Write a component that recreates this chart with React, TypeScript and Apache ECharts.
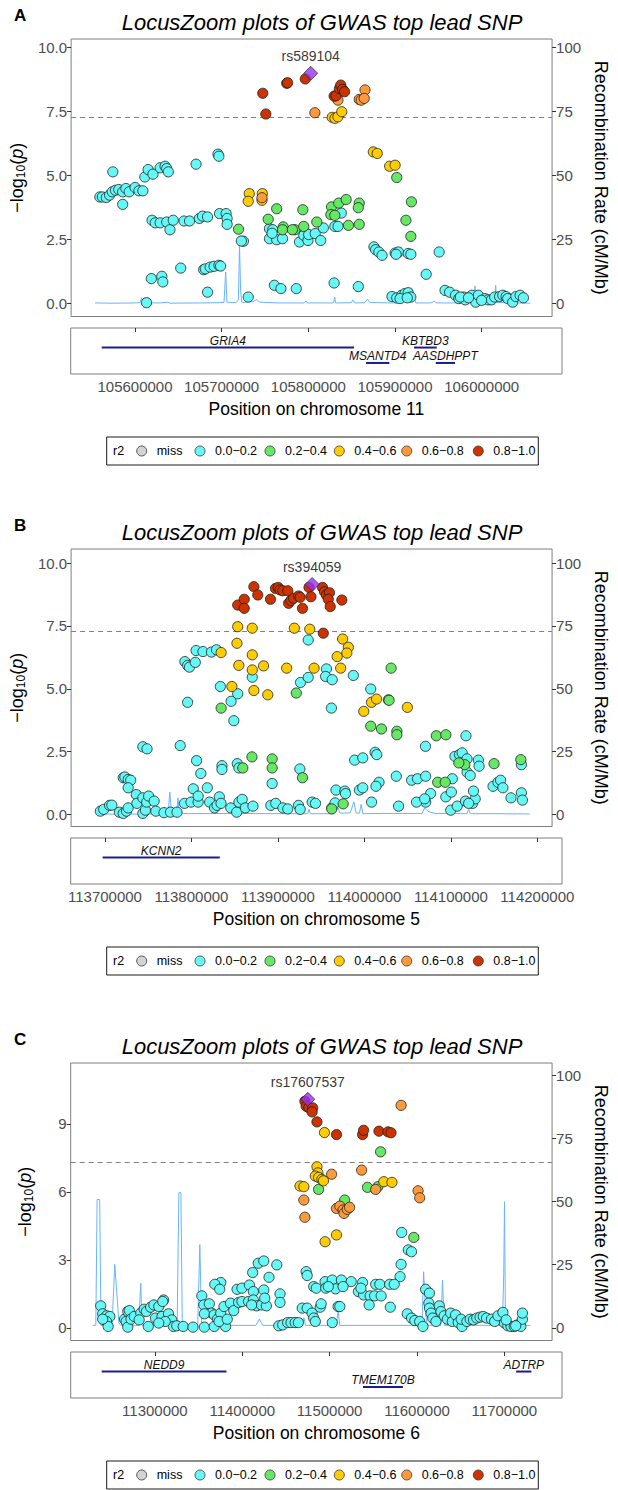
import React, { useEffect, useRef } from 'react';
import * as echarts from 'echarts';

const FONT = '"Liberation Sans", Arial, Helvetica, sans-serif';

const LD_COLORS = ['#D3D3D3', '#66F7F7', '#66E866', '#FFCC00', '#FF9A3C', '#CC3300'];
const LD_LABELS = ['miss', '0.0−0.2', '0.2−0.4', '0.4−0.6', '0.6−0.8', '0.8−1.0'];
const LEAD_COLOR = '#9A30EE';
const RECOMB_COLOR = '#6AB4FA';
const GENE_COLOR = '#1C1C90';

// ---------------- Panel A (chr 11) ----------------
const A_CYAN: [number, number][] = [
  [105559.7, 4.17], [105562.7, 4.17], [105567.3, 4.15], [105571.2, 4.24], [105574.3, 4.37], [105578.1, 4.43], [105582, 4.46], [105586.6, 4.37], [105590.4, 4.5], [105594.3, 4.37], [105601.2, 4.54], [105605.8, 4.41], [105610.4, 4.41], [105586.6, 3.88], [105575, 5.15],
  [105612.7, 4.95], [105616.6, 5.24], [105622.3, 5.06], [105630.8, 5.31], [105636.6, 5.37], [105638.5, 5.28], [105640.4, 5.15], [105673.1, 5.45], [105698.9, 5.84], [105700, 5.76],
  [105621.2, 3.26], [105625, 3.16], [105630.8, 3.16], [105638.5, 3.19], [105642.3, 2.89], [105646.2, 3.26], [105658.9, 3.23], [105665.4, 3.23], [105677, 3.33], [105680.8, 3.42], [105686.6, 3.39], [105700.8, 3.52], [105708.5, 3.52], [105709.7, 3.33], [105709.7, 3.1],
  [105620.4, 0.98], [105632.7, 1.07], [105633.9, 0.85], [105655, 1.39], [105682, 1.33], [105686.6, 0.45], [105684, 1.36], [105689.7, 1.43], [105694.3, 1.46], [105700, 1.5], [105702, 1.47], [105614.7, 0.04], [105734.6, 0.26],
  [105728.9, 2.44], [105726.5, 2.45],
  [105759.6, 2.93], [105763.5, 2.89], [105759.6, 2.54], [105768.1, 2.5], [105775, 2.54], [105762.7, 2.75], [105795, 2.41], [105800, 2.67], [105805, 2.47], [105805.8, 2.7], [105813.5, 2.74], [105820, 2.47], [105823.1, 2.96], [105844.3, 3.54], [105836.6, 3.02], [105840.4, 3.02], [105765.4, 0.72], [105773.1, 0.59], [105791.2, 0.59], [105835.8, 0.81], [105864.3, 0.67],
  [105882.7, 2.22], [105884.7, 2.11], [105888.5, 2.02], [105892.3, 1.89], [105907.7, 1.98], [105911.6, 2.02], [105908.8, 1.93], [105923.1, 1.96], [105926.2, 1.93], [105944.3, 1.15], [105959.6, 2.02],
  [105903.9, 0.28], [105909.6, 0.23], [105915.4, 0.33], [105919.3, 0.4], [105923.1, 0.43], [105926.2, 0.26], [105913.5, 0.2], [105922, 0.23],
  [105966.5, 0.52], [105971.9, 0.45], [105978.9, 0.33], [105982.7, 0.2], [105988.5, 0.26], [105990.4, 0.15], [105998.1, 0.33], [106002.7, 0.06], [106005.8, 0.33], [106013.5, 0.2], [106017.3, 0.15], [106021.2, 0.15], [106025, 0.26], [106030.8, 0.28], [106034.6, 0.33], [106038.5, 0.28], [106040.4, 0.2], [106046.2, 0.06], [106050, 0.28], [106055, 0.33], [106058.9, 0.23], [105984.6, 0.26], [105994.2, 0.23], [106009.6, 0.13],
];
const A_GREEN: [number, number][] = [
  [105723.1, 2.91], [105758.1, 3.3], [105768.1, 3.71], [105775.8, 3.0], [105775, 2.89], [105789.6, 2.89], [105786.6, 2.89], [105798.9, 3.67], [105800, 3.02], [105815.4, 3.19], [105832.7, 3.78], [105831.9, 3.48], [105836.6, 3.45], [105841.2, 3.93], [105850, 4.07], [105852.7, 3.06], [105865.4, 3.93], [105864.3, 3.75], [105865.4, 3.1], [105909.6, 4.93], [105926.9, 3.98], [105920.4, 3.26], [105926.2, 2.63],
];
const A_YELLOW: [number, number][] = [
  [105735.8, 4.3], [105734.6, 4.0], [105751.2, 4.3], [105750.8, 4.04], [105882, 5.93], [105886.6, 5.87], [105901.2, 5.37], [105907.7, 5.41], [105833.5, 7.28], [105836.8, 7.24], [105840.3, 7.3], [105844.8, 7.5],
];
const A_ORANGE: [number, number][] = [
  [105750.8, 4.14], [105813.1, 7.46], [105840.3, 7.95], [105865.4, 7.98], [105867.7, 7.95], [105872.2, 8.35], [105871.3, 8.02],
];
const A_RED: [number, number][] = [
  [105751.7, 8.22], [105755.3, 7.41], [105779.9, 8.61], [105781, 8.63], [105801.8, 8.78], [105835.8, 8.11], [105838, 8.12], [105842, 8.4], [105843.6, 8.54], [105845.8, 8.37], [105848.1, 8.28],
];
const A_LEAD: [number, number][] = [[105808.2, 9.0]];
const A_RECOMB: [number, number][] = [
  [105554, 0.3], [105575, 0.2], [105600, 0.3], [105607, 0.4], [105609, 2.3], [105611, 0.4], [105630, 0.3], [105640, 0.6], [105642, 0.2], [105680, 0.3], [105700, 0.4], [105706, 0.5], [105708, 12.4], [105709.5, 0.6], [105720, 0.4], [105723, 1.5], [105724.3, 23.2], [105725.6, 5], [105727, 0.5], [105740, 0.8], [105745, 1.6], [105748, 0.6], [105770, 0.3], [105800, 0.3], [105803, 1.0], [105804, 0.3], [105835, 0.3], [105836.5, 2.6], [105837.5, 0.3], [105856, 0.4], [105858, 1.5], [105860, 0.3], [105872, 0.4], [105875, 1.8], [105878, 0.5], [105900, 0.3], [105915, 0.3], [105920, 2], [105926.9, 6.2], [105930, 3], [105932, 0.3], [105950, 0.3], [105954, 1], [105956, 0.3], [105990, 0.3], [106000, 0.5], [106001.9, 6.9], [106003, 0.6], [106025, 0.5], [106026.2, 7.2], [106027.5, 0.5], [106050, 0.3], [106067, 0.2],
];
const A_GENE_NAMES = ['GRIA4', 'KBTBD3', 'MSANTD4', 'AASDHPPT'];
const A_GENE_START = [105561.6, 105921.9, 105866.5, 105947.0];
const A_GENE_END = [105852.7, 105948.1, 105893.4, 105969.2];
const A_GENE_ROW = [0, 0, 1, 1];
const A_XTICKS = [105600000, 105700000, 105800000, 105900000, 106000000];

// ---------------- Panel B (chr 5) ----------------
const B_CYAN: [number, number][] = [
  [113794.8, 6.08], [113798, 5.93], [113800.2, 5.86], [113807.1, 6.05], [113808, 6.52], [113816.2, 6.48], [113826.2, 6.46], [113832.1, 6.55], [113940.5, 6.94], [113962, 5.79], [113961, 5.49], [113968.8, 5.36], [113993.8, 5.53], [113931.4, 5.25], [113940.5, 5.45], [113874.4, 5.46], [113836.7, 5.09], [113857.2, 4.8], [113849.4, 4.5], [113798, 4.46], [113852.6, 3.73], [114014.3, 4.99], [113967.9, 4.23], [114126.8, 3.13], [114079, 2.71],
  [113745.1, 2.69], [113750.1, 2.61], [113789.3, 2.74], [113808.6, 2.14], [113813.6, 1.63], [113838.6, 1.94], [113838.6, 1.79], [113856.7, 2.02], [113858.6, 1.85], [113897.9, 1.23], [113930.6, 1.81], [113945.2, 0.49], [113949.1, 0.44], [113995.3, 2.16], [114004.9, 2.25], [114019.5, 2.47], [114021.4, 2.38], [114024.1, 1.28], [114020.5, 1.12], [114044.5, 1.52], [114062.6, 1.36], [114069.6, 1.42], [114079.2, 1.52], [114079.2, 0.49], [114085, 0.83], [114103, 0.7], [114109.6, 0.89], [114108.8, 0.17], [114110.7, 1.42], [114113.8, 2.31], [114119.2, 2.38], [114122.3, 2.45], [114128.1, 2.21], [114128.1, 1.68], [114131.9, 1.55], [114134.6, 0.44], [114137.7, 0.62], [114135.7, 0.93], [114141.5, 2.16], [114142.3, 1.92], [114116.5, 0.33], [114126.2, 0.53], [114130, 0.44], [114158.8, 1.12], [114164.6, 1.28], [114167.7, 1.36], [114170.4, 1.06], [114180, 0.66], [114192.3, 1.98], [114192.3, 0.86], [114193.5, 0.57],
  [113695, 0.13], [113698.9, 0.2], [113705.8, 0.36], [113708.5, 0.37], [113717.4, 0.09], [113722, 0.04], [113725.8, 0.13], [113727.8, 0.26], [113722, 1.46], [113723.9, 1.49], [113727.8, 1.39], [113730.8, 1.36], [113727.8, 1.06], [113737.4, 0.79], [113738.1, 0.44], [113745.1, 0.04], [113748.2, 0.17], [113745.1, 0.66], [113749.7, 0.49], [113752, 0.73], [113758.5, 0.53], [113760.5, 0.13], [113770.1, 0.07], [113777.8, 0.09], [113785.5, 0.09], [113794.3, 0.44], [113802, 0.49], [113804.7, 1.02], [113810.5, 0.49], [113810.5, 0.73], [113821.3, 1.06], [113824, 0.49], [113829.8, 0.26], [113832.8, 0.36], [113835.5, 0.7], [113837.5, 0.44], [113849, 0.26], [113856, 0.09], [113858.6, 0.49], [113862.5, 0.6], [113866.3, 0.26], [113875.2, 0.33], [113896.3, 0.36], [113902.1, 0.44], [113910.6, 0.26], [113916.3, 0.22], [113929, 0.36], [113931, 0.2], [113968.3, 0.26], [113972.2, 0.46], [113973.3, 0.97], [113983.7, 0.93], [113984.5, 0.83], [114001, 0.97], [114004.9, 1.06], [114015.3, 0.49], [114047.2, 0.33], [114068.4, 0.49], [114078, 0.62],
];
const B_GREEN: [number, number][] = [
  [113926.4, 4.83], [113837.6, 4.23], [114038.4, 5.82], [114035.2, 4.56], [114036, 4.54], [114014.3, 3.51], [114027, 3.4], [114045.2, 3.31], [114045.2, 3.17], [114091.8, 3.13], [114103.1, 3.17], [113863.2, 1.85], [113874, 2.29], [113897.9, 2.21], [113897.9, 1.85], [113933.7, 1.46], [113968.3, 0.22], [113981.8, 0.42], [114125.4, 1.98], [114118.4, 2.05], [114191.6, 2.18], [114093.4, 1.28], [114102.3, 1.28], [114160, 2.02],
];
const B_YELLOW: [number, number][] = [
  [113857.2, 7.47], [113874.4, 7.41], [113924.1, 7.41], [113942.3, 7.37], [113856.3, 6.81], [113837.6, 6.44], [113874.4, 6.35], [113981.1, 6.98], [113987.9, 6.65], [113986.1, 6.42], [113974.7, 6.28], [113858.5, 5.93], [113874.4, 5.75], [113887.7, 5.91], [113915, 5.82], [113947.4, 5.82], [113978.8, 5.82], [113850.3, 5.09], [113876.3, 4.93], [113892.7, 4.76], [114006.1, 4.1], [114015.2, 4.46], [114021.2, 4.59], [114057.6, 4.26],
];
const B_ORANGE: [number, number][] = [];
const B_RED: [number, number][] = [
  [113857.2, 8.33], [113864.9, 8.56], [113864.9, 8.2], [113876.3, 9.06], [113880.9, 8.73], [113895.9, 8.56], [113901.8, 8.99], [113905, 9.03], [113907.3, 8.93], [113910.5, 8.9], [113916.4, 8.9], [113917.3, 8.4], [113920, 8.51], [113923.2, 8.6], [113929.1, 8.69], [113931, 8.64], [113933.7, 8.2], [113941.4, 9.03], [113943.7, 8.66], [113957.4, 9.03], [113959.7, 8.86], [113962, 8.73], [113965.6, 8.82], [113964.2, 8.56], [113966.5, 8.27], [113980.2, 8.53], [113958.3, 7.21],
];
const B_LEAD: [number, number][] = [[113945.1, 9.15]];
const B_RECOMB: [number, number][] = [
  [113689, 0.2], [113720, 0.1], [113760, 0.2], [113775, 0.3], [113777, 8.9], [113779, 0.5], [113785, 0.5], [113786.6, 6.6], [113788, 0.5], [113800, 0.3], [113850, 0.4], [113900, 0.3], [113940, 0.3], [113941.4, 2], [113943, 0.3], [113970, 0.3], [113976, 2.6], [113978, 0.5], [113990, 0.6], [113994.5, 5.0], [113997, 0.6], [114001, 0.5], [114003, 4], [114005, 0.3], [114030, 0.4], [114075, 0.4], [114078, 2.6], [114082, 1.2], [114090, 0.4], [114128, 0.3], [114130, 2], [114132, 0.3], [114160, 0.3], [114202, 0.2],
];
const B_GENE_NAMES = ['KCNN2'];
const B_GENE_START = [113697.3];
const B_GENE_END = [113832.8];
const B_GENE_ROW = [0];
const B_XTICKS = [113700000, 113800000, 113900000, 114000000, 114100000, 114200000];

// ---------------- Panel C (chr 6) ----------------
const C_CYAN: [number, number][] = [
  [11590.3, 4.21], [11598, 3.44], [11601.8, 3.36], [11589.6, 2.8], [11588.4, 2.26], [11422.7, 2.85], [11429.2, 2.95], [11444.4, 2.78], [11416.2, 2.44], [11435.3, 2.23], [11378.9, 2.0], [11372, 1.92], [11377.7, 1.7], [11398, 1.7], [11403.7, 1.75], [11412.4, 1.89], [11417, 1.6], [11429.2, 1.67], [11448.2, 1.5], [11478.7, 2.48], [11479.9, 2.31], [11487.5, 1.82], [11490.5, 1.75], [11500.8, 2.04], [11501.6, 1.75], [11509.2, 2.11], [11513, 1.72], [11519.9, 2.11], [11531.3, 2.04], [11544.6, 2.0], [11539.7, 1.6], [11545.8, 1.45], [11559.9, 1.92], [11564.8, 1.92], [11576.2, 1.92], [11581.6, 1.92], [11553.4, 1.41], [11558.7, 1.41], [11566.3, 1.41], [11618.2, 1.7], [11622.7, 1.53], [11356.8, 1.41], [11312.2, 1.23],
  [11238.7, 0.97], [11241, 0.62], [11245.5, 0.53], [11249.4, 0.5], [11245.5, 0.28], [11247.4, 0.06], [11241, 0.38], [11266.5, 0.38], [11270.3, 0.72], [11272.2, 0.76], [11268.4, 0.28], [11270.3, 0.03], [11274.1, 0.38], [11277.9, 0.5], [11285.5, 0.65], [11289.4, 0.82], [11292, 0.72], [11297, 0.91], [11300.8, 1.01], [11306.5, 0.94], [11311.1, 1.16], [11283.6, 0.35], [11294.3, 0.06], [11302.7, 0.43], [11310.3, 0.5], [11317.9, 0.62], [11321.7, 0.35], [11323.6, 0.06], [11327.5, 0.09], [11335.1, 0.06], [11346.5, 0.03], [11359.8, 0.03], [11314.1, 0.28], [11306.5, 0.21],
  [11359.1, 1.01], [11365.6, 1.06], [11368.2, 0.65], [11359.8, 0.62], [11371.3, 0.57], [11375.1, 0.38], [11378.9, 0.65], [11382.7, 0.94], [11384.6, 0.06], [11371.3, 0.06], [11377, 0.28], [11386.5, 0.38], [11390.3, 1.09], [11394.1, 0.76], [11399.8, 1.12], [11403.7, 1.16], [11411.3, 1.16], [11417, 1.23], [11420.8, 0.97], [11426.5, 1.01], [11432.2, 0.97], [11415, 1.01], [11430.3, 1.31], [11448.2, 1.12],
  [11446.7, 0.09], [11451.3, 0.13], [11457, 0.23], [11461, 0.23], [11465.8, 0.23], [11469.6, 0.23],
  [11474.1, 0.87], [11479.9, 0.87], [11485.6, 0.65], [11487.5, 0.43], [11489.4, 0.28], [11495.1, 0.91], [11496.2, 1.06], [11509.2, 0.23], [11516, 0.94], [11518, 0.94], [11504.6, 1.82], [11521.8, 1.82], [11542.7, 1.75], [11552.3, 1.01], [11577, 0.91],
  [11596.8, 0.62], [11601.8, 0.43], [11605.6, 0.32], [11611.3, 0.28], [11615.1, 0.06], [11622, 1.09], [11622.7, 0.87], [11624.6, 0.65], [11626.5, 0.43], [11630.3, 0.28], [11634.2, 0.97], [11636.1, 0.72], [11639.9, 0.53], [11643.7, 0.38], [11647.5, 0.65], [11649.4, 0.28], [11653.2, 0.57], [11656.3, 0.23], [11660.8, 0.06], [11659.8, 0.38], [11666.5, 0.28], [11670.3, 0.38], [11674.2, 0.35], [11678, 0.43], [11681.8, 0.47], [11685.6, 0.5], [11689.4, 0.43], [11695.1, 0.38], [11698.9, 0.28], [11702.7, 0.53], [11708.5, 0.68], [11710.4, 0.21], [11714.2, 0.09], [11718, 0.06], [11721.8, 0.06], [11725.6, 0.13], [11729.4, 0.06], [11731.3, 0.38], [11731.3, 0.65], [11712.3, 0.35], [11723.5, 0.09],
];
const C_GREEN: [number, number][] = [
  [11565.6, 7.77], [11493.2, 6.11], [11550.3, 6.2], [11562.5, 6.23], [11523.7, 5.64], [11604.4, 3.99],
];
const C_YELLOW: [number, number][] = [
  [11500.1, 8.62], [11491.3, 7.11], [11492.4, 6.84], [11489.4, 6.7], [11493.2, 6.64], [11497, 6.55], [11498.9, 6.49], [11471.5, 6.26], [11476, 6.23], [11569.4, 6.45], [11578.9, 6.42], [11514.1, 4.1], [11500.8, 3.8],
];
const C_ORANGE: [number, number][] = [
  [11589.6, 9.82], [11508.4, 6.78], [11543.5, 6.96], [11476, 5.64], [11477.2, 4.88], [11559.9, 6.11], [11609.4, 6.05], [11611.3, 5.74], [11514.1, 5.27], [11518, 5.37], [11521.8, 5.2], [11522.9, 5.05], [11526.7, 5.23], [11529.4, 5.32],
];
const C_RED: [number, number][] = [
  [11477.2, 10.0], [11478.7, 9.78], [11481.8, 9.72], [11486.3, 9.71], [11485.6, 9.53], [11491.3, 9.09], [11514.1, 8.53], [11544.6, 8.53], [11545.8, 8.72], [11563.7, 8.68], [11574.3, 8.65], [11577.8, 8.61],
];
const C_LEAD: [number, number][] = [[11480.6, 10.09]];
const C_RECOMB: [number, number][] = [
  [11229, 1.0], [11233, 1.0], [11234.5, 50.8], [11237.5, 50.8], [11239, 1.0], [11252, 1.0], [11255.1, 25.1], [11260, 2], [11262, 1.0], [11283, 1.0], [11285.5, 17.6], [11287, 1.0], [11328, 1.0], [11330, 53.5], [11332.4, 53.5], [11334, 1.0], [11352, 1.0], [11354.5, 33], [11356.5, 1.0], [11420, 1.0], [11424, 3.5], [11428, 1.0], [11474, 1], [11476, 4], [11478, 1], [11514, 1], [11516, 6.8], [11518, 1], [11600, 1], [11614, 1], [11615.9, 22.2], [11618.5, 5], [11620, 1], [11636, 1], [11638, 18.9], [11640, 1], [11708, 1], [11709.5, 22], [11710.4, 49.9], [11711.5, 1], [11740.8, 1],
];
const C_GENE_NAMES = ['NEDD9', 'TMEM170B', 'ADTRP'];
const C_GENE_START = [11239.1, 11538.2, 11713.4];
const C_GENE_END = [11381.9, 11583.9, 11730.9];
const C_GENE_ROW = [0, 1, 0];
const C_XTICKS = [11300000, 11400000, 11500000, 11600000, 11700000];

const PANELS = [
  {
    letter: 'A', top: 39, chrom: 'Position on chromosome 11', lead: 'rs589104',
    xMin: 105525810, xMax: 106092670, yMin: -0.5, yMax: 10.34, rMin: -5, rMax: 103.4,
    yTicks: [0, 2.5, 5, 7.5, 10], yDec: 1, xTicks: A_XTICKS,
    cyan: A_CYAN, green: A_GREEN, yellow: A_YELLOW, orange: A_ORANGE, red: A_RED, leadPt: A_LEAD, recomb: A_RECOMB,
    gNames: A_GENE_NAMES, gStart: A_GENE_START, gEnd: A_GENE_END, gRow: A_GENE_ROW,
  },
  {
    letter: 'B', top: 549, chrom: 'Position on chromosome 5', lead: 'rs394059',
    xMin: 113660390, xMax: 114228520, yMin: -0.48, yMax: 10.56, rMin: -4.8, rMax: 105.6,
    yTicks: [0, 2.5, 5, 7.5, 10], yDec: 1, xTicks: B_XTICKS,
    cyan: B_CYAN, green: B_GREEN, yellow: B_YELLOW, orange: B_ORANGE, red: B_RED, leadPt: B_LEAD, recomb: B_RECOMB,
    gNames: B_GENE_NAMES, gStart: B_GENE_START, gEnd: B_GENE_END, gRow: B_GENE_ROW,
  },
  {
    letter: 'C', top: 1063, chrom: 'Position on chromosome 6', lead: 'rs17607537',
    xMin: 11203660, xMax: 11765940, yMin: -0.56, yMax: 11.69, rMin: -5.0, rMax: 104.8,
    yTicks: [0, 3, 6, 9], yDec: 0, xTicks: C_XTICKS,
    cyan: C_CYAN, green: C_GREEN, yellow: C_YELLOW, orange: C_ORANGE, red: C_RED, leadPt: C_LEAD, recomb: C_RECOMB,
    gNames: C_GENE_NAMES, gStart: C_GENE_START, gEnd: C_GENE_END, gRow: C_GENE_ROW,
  },
];

const GRID_LEFT = 70.7;
const GRID_W = 491.3;
const PLOT_H = 277.5;
const GENE_H = 46;
const GENE_ROW_POS = [0.425, 0.76];
const TICK_COLOR = '#333333';
const LABEL_COLOR = '#4D4D4D';

function kb(d: [number, number][]) {
  return d.map(([x, y]) => [x * 1000, y]);
}

function buildOption() {
  const grid: any[] = [];
  const xAxis: any[] = [];
  const yAxis: any[] = [];
  const series: any[] = [];
  const graphic: any[] = [];

  PANELS.forEach((p, i) => {
    const T = p.top;
    grid.push({ left: GRID_LEFT, top: T, width: GRID_W, height: PLOT_H, show: true, borderColor: '#7F7F7F', borderWidth: 1, backgroundColor: 'transparent' });
    grid.push({ left: GRID_LEFT, top: T + 289, width: GRID_W, height: GENE_H, show: true, borderColor: '#7F7F7F', borderWidth: 1, backgroundColor: 'transparent' });

    xAxis.push({ type: 'value', gridIndex: 2 * i, min: p.xMin, max: p.xMax, show: false });
    xAxis.push({
      type: 'value', gridIndex: 2 * i + 1, min: p.xMin, max: p.xMax, position: 'bottom',
      axisLine: { show: false },
      axisTick: { show: true, length: 4, lineStyle: { color: TICK_COLOR, width: 1 }, customValues: p.xTicks },
      axisLabel: { customValues: p.xTicks, formatter: (v: number) => String(Math.round(v)), fontSize: 15, color: LABEL_COLOR, fontFamily: FONT, margin: 5 },
      splitLine: { show: false },
      name: p.chrom, nameLocation: 'middle', nameGap: 26,
      nameTextStyle: { fontSize: 17.5, color: '#000', fontFamily: FONT },
    });

    const yi = 3 * i;
    yAxis.push({
      type: 'value', gridIndex: 2 * i, position: 'left', min: p.yMin, max: p.yMax,
      axisLine: { show: false },
      axisTick: { show: true, length: 4, lineStyle: { color: TICK_COLOR, width: 1 }, customValues: p.yTicks },
      axisLabel: { customValues: p.yTicks, formatter: (v: number) => v.toFixed(p.yDec), fontSize: 15, color: LABEL_COLOR, fontFamily: FONT, margin: 4 },
      splitLine: { show: false },
      name: '{a|−log}{b|10}{a|(}{c|p}{a|)}', nameLocation: 'middle', nameGap: 36, nameRotate: 90,
      nameTextStyle: {
        fontFamily: FONT, color: '#000',
        rich: {
          a: { fontSize: 18, fontFamily: FONT, color: '#000', lineHeight: 20 },
          b: { fontSize: 12, fontFamily: FONT, color: '#000', verticalAlign: 'bottom', lineHeight: 20 },
          c: { fontSize: 18, fontFamily: FONT, fontStyle: 'italic', color: '#000', lineHeight: 20 },
        },
      },
    });
    yAxis.push({
      type: 'value', gridIndex: 2 * i, position: 'right', min: p.rMin, max: p.rMax,
      axisLine: { show: false },
      axisTick: { show: true, length: 4, lineStyle: { color: TICK_COLOR, width: 1 }, customValues: [0, 25, 50, 75, 100] },
      axisLabel: { customValues: [0, 25, 50, 75, 100], fontSize: 15, color: LABEL_COLOR, fontFamily: FONT, margin: 4 },
      splitLine: { show: false },
      name: 'Recombination Rate (cM/Mb)', nameLocation: 'middle', nameGap: 33, nameRotate: -90,
      nameTextStyle: { fontSize: 18, color: '#000', fontFamily: FONT },
    });
    yAxis.push({ type: 'value', gridIndex: 2 * i + 1, min: 0, max: 1, inverse: true, show: false });

    // recombination line
    series.push({
      type: 'line', xAxisIndex: 2 * i, yAxisIndex: yi + 1, data: kb(p.recomb), symbol: 'none',
      lineStyle: { color: RECOMB_COLOR, width: 1 }, z: 1, silent: true,
    });

    const groups: [number, [number, number][]][] = [
      [1, p.cyan], [2, p.green], [3, p.yellow], [4, p.orange], [5, p.red],
    ];
    groups.forEach(([ci, d], gi) => {
      const s: any = {
        type: 'scatter', xAxisIndex: 2 * i, yAxisIndex: yi, data: kb(d), symbol: 'circle', symbolSize: 10.2,
        itemStyle: { color: LD_COLORS[ci], borderColor: '#1E1E1E', borderWidth: 0.8, opacity: 1 },
        z: 3 + gi, silent: true,
      };
      if (gi === 0) {
        s.markLine = {
          silent: true, symbol: ['none', 'none'], animation: false,
          data: [{ yAxis: 7.3 }],
          lineStyle: { color: '#808080', type: [5, 4], width: 1 },
          label: { show: false },
        };
      }
      series.push(s);
    });

    series.push({
      type: 'scatter', xAxisIndex: 2 * i, yAxisIndex: yi, data: kb(p.leadPt), symbol: 'diamond', symbolSize: 14,
      itemStyle: { color: LEAD_COLOR, borderColor: '#1E1E1E', borderWidth: 0.8 }, z: 10, silent: true,
      label: { show: true, position: 'top', distance: 3, formatter: p.lead, fontSize: 14, color: '#000', fontFamily: FONT },
    });

    // gene track
    const geneData = p.gNames.map((_, k) => [p.gStart[k] * 1000, p.gEnd[k] * 1000, GENE_ROW_POS[p.gRow[k]]]);
    const names = p.gNames;
    series.push({
      type: 'custom', xAxisIndex: 2 * i + 1, yAxisIndex: yi + 2, data: geneData, silent: true,
      renderItem: (params: any, api: any) => {
        const s = api.coord([api.value(0), api.value(2)]);
        const e = api.coord([api.value(1), api.value(2)]);
        return {
          type: 'group',
          children: [
            { type: 'line', shape: { x1: s[0], y1: s[1], x2: e[0], y2: s[1] }, style: { stroke: GENE_COLOR, lineWidth: 2 } },
            {
              type: 'text', x: (s[0] + e[0]) / 2, y: s[1] - 6.5,
              style: { text: names[params.dataIndex], fontSize: 12, fontStyle: 'italic', fontFamily: FONT, fill: '#111', align: 'center', verticalAlign: 'middle' },
            },
          ],
        };
      },
    });

    // letter + title
    graphic.push({ type: 'text', left: 14, top: T - 32, style: { text: p.letter, fontSize: 17, fontWeight: 'bold', fontFamily: FONT, fill: '#000' } });
    graphic.push({
      type: 'text', x: 322, y: T - 17,
      style: { text: 'LocusZoom plots of GWAS top lead SNP', fontSize: 22, fontStyle: 'italic', fontFamily: FONT, fill: '#000', align: 'center', verticalAlign: 'middle' },
    });

    // legend
    const LT = T + 398;
    const cy = LT + 14;
    const children: any[] = [
      { type: 'rect', shape: { x: 106.7, y: LT, width: 431.6, height: 28 }, style: { fill: '#fff', stroke: '#1A1A1A', lineWidth: 1 } },
      { type: 'text', x: 113, y: cy, style: { text: 'r2', fontSize: 12.5, fontFamily: FONT, fill: '#000', align: 'left', verticalAlign: 'middle' } },
    ];
    const circX = [141.7, 200, 270, 339.3, 406.7, 478.3];
    LD_LABELS.forEach((lab, k) => {
      children.push({ type: 'circle', shape: { cx: circX[k], cy, r: 5 }, style: { fill: LD_COLORS[k], stroke: '#333', lineWidth: 0.8 } });
      children.push({ type: 'text', x: circX[k] + 15, y: cy, style: { text: lab, fontSize: 12.5, fontFamily: FONT, fill: '#000', align: 'left', verticalAlign: 'middle' } });
    });
    graphic.push({ type: 'group', children });
  });

  return { animation: false, backgroundColor: '#ffffff', grid, xAxis, yAxis, series, graphic };
}

export default function App() {
  const ref = useRef<HTMLDivElement>(null);
  useEffect(() => {
    if (!ref.current) return;
    const chart = echarts.init(ref.current, null, { renderer: 'svg' });
    chart.setOption(buildOption() as any);
    return () => chart.dispose();
  }, []);
  return <div ref={ref} style={{ position: 'absolute', left: 0, top: 0, width: 618, height: 1490, background: '#fff' }} />;
}
